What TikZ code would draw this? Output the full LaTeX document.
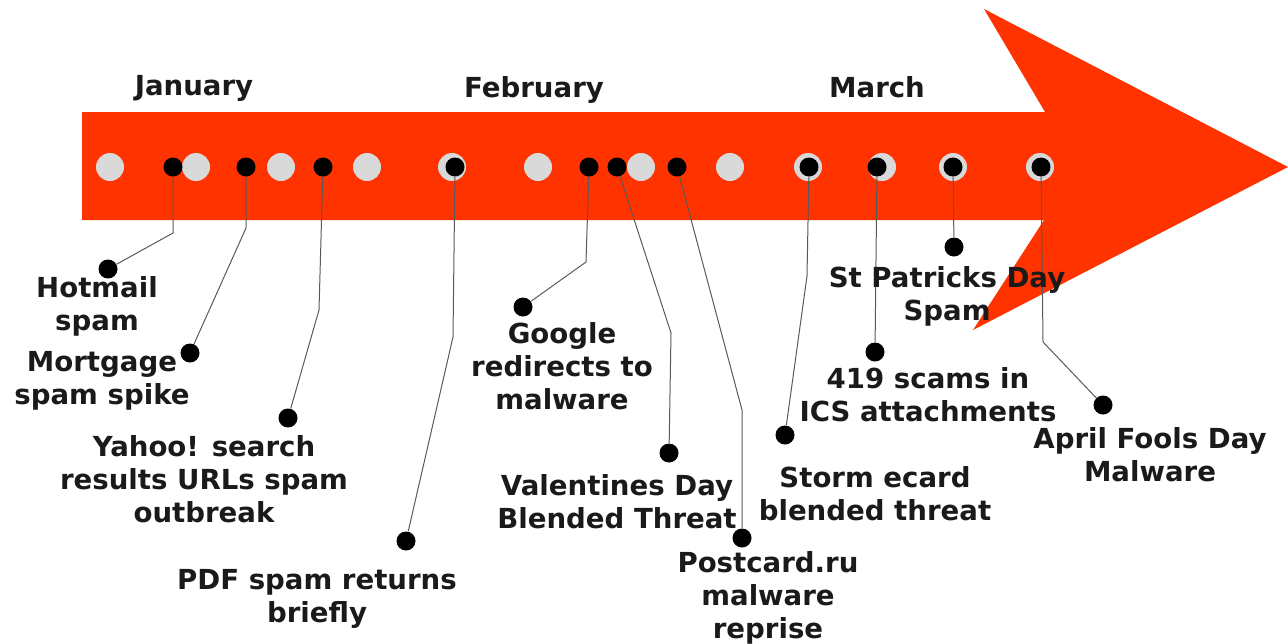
\documentclass[tikz,border=0pt]{standalone}
\usepackage{fontspec}
\setmainfont{DejaVu Sans}
\definecolor{arrowred}{RGB}{255,51,0}
\definecolor{dotgrey}{RGB}{217,217,217}
\definecolor{inkc}{RGB}{26,26,26}
\tikzset{
  greydot/.style={circle, fill=dotgrey, minimum size=14pt, inner sep=0pt},
  blackdot/.style={circle, fill=black, minimum size=9.5pt, inner sep=0pt},
  leader/.style={draw=black!65, line width=0.5pt},
  lbl/.style={font=\bfseries\fontsize{13.8}{16.6}\selectfont, text=inkc, align=center, anchor=north, inner sep=0pt},
  month/.style={font=\bfseries\fontsize{13.8}{16.6}\selectfont, text=inkc, anchor=base, inner sep=0pt}
}
\begin{document}
\begin{tikzpicture}[x=0.5pt,y=-0.5pt]
\useasboundingbox (0,0) rectangle (1288,643);
% arrow
\fill[arrowred] (82,112) -- (1045,112) -- (984,9) -- (1288,167) -- (973,330) -- (1044,220) -- (82,220) -- cycle;
% months
\node[month] (jan) at (194,95) {January};
\node[month] (feb) at (534,97) {February};
\node[month] (mar) at (877,97) {March};
% grey dots
\foreach \gx [count=\i] in {110,196,281,367,452,538,641,730,808,882,953,1040}
  \node[greydot] (g\i) at (\gx,167) {};
% event dots on the arrow
\node[blackdot] (e1) at (173,167) {};
\node[blackdot] (e2) at (246,167) {};
\node[blackdot] (e3) at (323,167) {};
\node[blackdot] (e4) at (455,167) {};
\node[blackdot] (e5) at (589,167) {};
\node[blackdot] (e6) at (617,167) {};
\node[blackdot] (e7) at (677,167) {};
\node[blackdot] (e8) at (809,167) {};
\node[blackdot] (e9) at (877,167) {};
\node[blackdot] (e10) at (953,167) {};
\node[blackdot] (e11) at (1041,167) {};
% bends
\coordinate (b1) at (173,233);
\coordinate (b2) at (246,228);
\coordinate (b3) at (319,310);
\coordinate (b4) at (453,337);
\coordinate (b5) at (586,262);
\coordinate (b6) at (671,333);
\coordinate (b7) at (742,410);
\coordinate (b8) at (807,276);
\coordinate (b11) at (1043,342);
% label dots
\node[blackdot] (d1) at (108,269) {};
\node[blackdot] (d2) at (190,353) {};
\node[blackdot] (d3) at (288,418) {};
\node[blackdot] (d4) at (406,541) {};
\node[blackdot] (d5) at (523,307) {};
\node[blackdot] (d6) at (669,453) {};
\node[blackdot] (d7) at (742,538) {};
\node[blackdot] (d8) at (785,435) {};
\node[blackdot] (d9) at (875,352) {};
\node[blackdot] (d10) at (954,247) {};
\node[blackdot] (d11) at (1103,405) {};
% leaders
\draw[leader] (e1) -- (b1) -- (d1);
\draw[leader] (e2) -- (b2) -- (d2);
\draw[leader] (e3) -- (b3) -- (d3);
\draw[leader] (e4) -- (b4) -- (d4);
\draw[leader] (e5) -- (b5) -- (d5);
\draw[leader] (e6) -- (b6) -- (d6);
\draw[leader] (e7) -- (b7) -- (d7);
\draw[leader] (e8) -- (b8) -- (d8);
\draw[leader] (e9) -- (d9);
\draw[leader] (e10) -- (d10);
\draw[leader] (e11) -- (b11) -- (d11);
% labels
\node[lbl] (t1) at (97,276) {Hotmail\\spam};
\node[lbl] (t2) at (102,351) {Mortgage\\spam spike};
\node[lbl] (t3) at (204,435) {Yahoo! search\\results URLs spam\\outbreak};
\node[lbl] (t4) at (317,569) {PDF spam returns\\briefly};
\node[lbl] (t5) at (562,322) {Google\\redirects to\\malware};
\node[lbl] (t6) at (617,474) {Valentines Day\\Blended Threat};
\node[lbl] (t7) at (768,551) {Postcard.ru\\malware\\reprise};
\node[lbl] (t8) at (875,466) {Storm ecard\\blended threat};
\node[lbl] (t9) at (947,266) {St Patricks Day\\Spam};
\node[lbl] (t10) at (928,367) {419 scams in\\ICS attachments};
\node[lbl] (t11) at (1150,427) {April Fools Day\\Malware};
\end{tikzpicture}
\end{document}
